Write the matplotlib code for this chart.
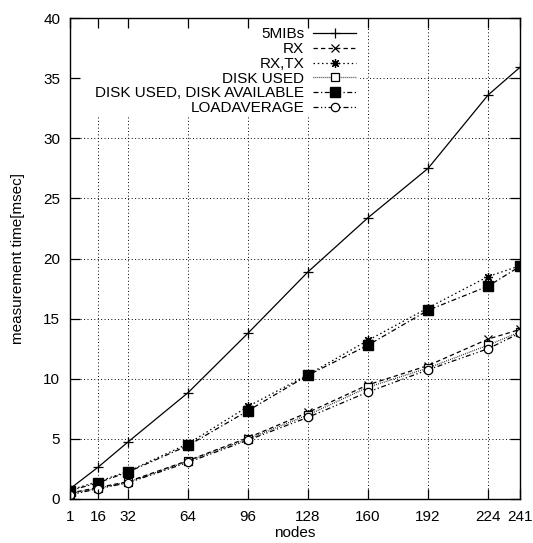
import matplotlib
matplotlib.use("Agg")
import matplotlib.pyplot as plt
from matplotlib.patches import Rectangle

plt.rcParams['font.family'] = ['Liberation Sans', 'DejaVu Sans']

nodes = [1, 16, 32, 64, 96, 128, 160, 192, 224, 241]
x_ticks = [1, 16, 32, 64, 96, 128, 160, 192, 224, 241]
y_ticks = [0, 5, 10, 15, 20, 25, 30, 35, 40]

mibs5 = [0.85, 2.65, 4.75, 8.85, 13.8, 18.9, 23.4, 27.5, 33.6, 35.9]
rx = [0.5, 0.95, 1.45, 3.2, 5.1, 7.2, 9.5, 11.1, 13.3, 14.1]
rxtx = [0.75, 1.45, 2.3, 4.6, 7.7, 10.35, 13.2, 15.9, 18.5, 19.4]
disk_used = [0.45, 0.9, 1.4, 3.15, 5.0, 7.0, 9.3, 10.9, 12.8, 13.9]
disk_used_avail = [0.7, 1.35, 2.25, 4.45, 7.35, 10.3, 12.8, 15.7, 17.7, 19.35]
loadavg = [0.35, 0.85, 1.35, 3.05, 4.9, 6.8, 8.9, 10.75, 12.5, 13.8]

labels = ["5MIBs", "RX", "RX,TX", "DISK USED", "DISK USED, DISK AVAILABLE", "LOADAVERAGE"]

fs = 11

fig = plt.figure(figsize=(5.33, 5.43), dpi=100)
ax = fig.add_axes([70/533, 1-499/543, 450/533, 481/543])

lw = 0.9
ms = 6.5
ax.plot(nodes, mibs5, color='black', lw=lw, ls='-', marker='+', ms=ms+1, mew=0.9, label=labels[0], zorder=2)
ax.plot(nodes, rx, color='black', lw=lw, ls=(0, (3.5, 2.5)), marker='x', ms=ms-1, mew=0.9, label=labels[1], zorder=2)
ax.plot(nodes, rxtx, color='black', lw=lw, ls=(0, (1.2, 2.2)), marker=(8, 2, 0), ms=ms, mew=0.9, label=labels[2], zorder=2)
ax.plot(nodes, disk_used, color='black', lw=lw, ls=(0, (0.6, 1.0)), marker='s', ms=ms-0.5, mfc='white', mec='black', mew=0.9, label=labels[3], zorder=2)
ax.plot(nodes, disk_used_avail, color='black', lw=lw, ls=(0, (4, 2, 1, 2)), marker='s', ms=ms, mfc='black', mec='black', label=labels[4], zorder=2)
ax.plot(nodes, loadavg, color='black', lw=lw, ls=(0, (4, 2, 1, 2, 1, 2)), marker='o', ms=ms-0.5, mfc='white', mec='black', mew=0.9, label=labels[5], zorder=2)

ax.set_xlim(1, 241)
ax.set_ylim(0, 40)

# dotted grid
ax.vlines(x_ticks[1:-1], 0, 40, colors='black', linestyles=(0, (1, 2.5)), lw=0.7, zorder=0.8)
ax.hlines(y_ticks[1:-1], 1, 241, colors='black', linestyles=(0, (1, 2.5)), lw=0.7, zorder=0.8)
# opaque key area
ax.add_patch(Rectangle((0, 0.795), 0.645, 0.205, transform=ax.transAxes, facecolor='white', edgecolor='none', zorder=1))

ax.set_axisbelow(False)
ax.set_xticks(x_ticks)
ax.set_yticks(y_ticks)
ax.tick_params(direction='in', length=7, width=0.9, top=True, right=True, labelsize=fs, pad=7, colors='black')
ax.tick_params(axis='x', pad=8)
for s in ax.spines.values():
    s.set_linewidth(1.0)

ax.set_xlabel("nodes", fontsize=fs, labelpad=1.5)
ax.set_ylabel("measurement time[msec]", fontsize=fs, labelpad=13)

leg = ax.legend(loc='upper right', bbox_to_anchor=(0.646, 0.99), markerfirst=False, frameon=False,
                fontsize=fs, handlelength=2.8, handletextpad=0.6, labelspacing=0.05,
                borderaxespad=0.0, borderpad=0.3)
leg.set_zorder(5)

fig.savefig("out.png", dpi=100)
